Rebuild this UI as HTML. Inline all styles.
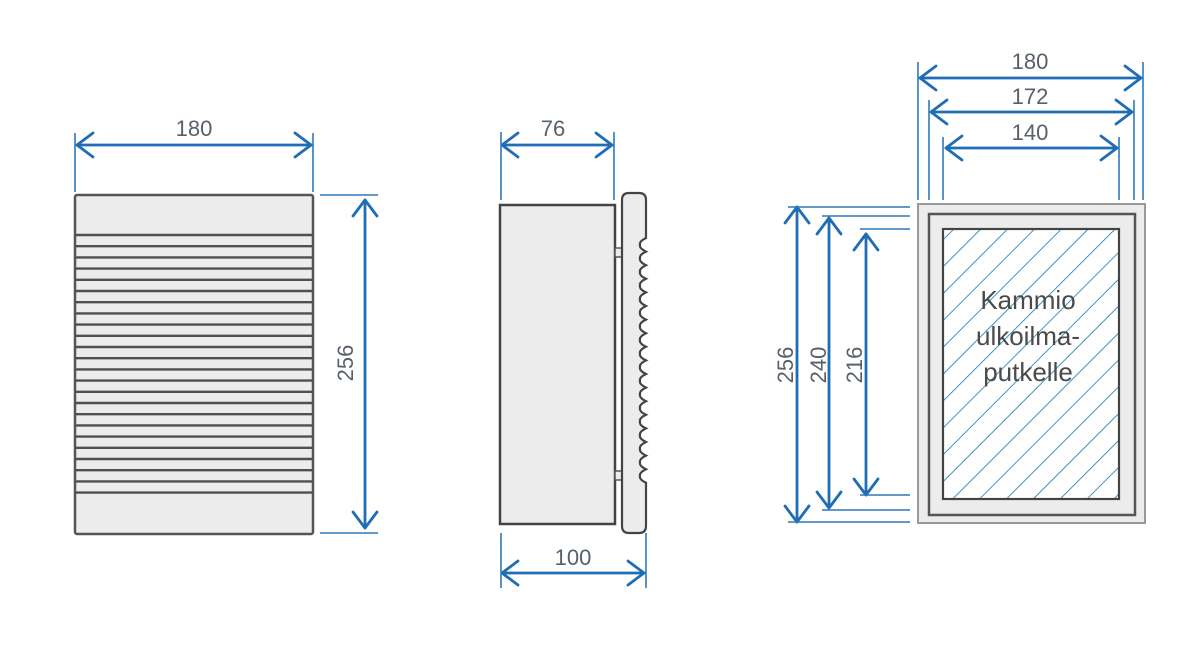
<!DOCTYPE html>
<html><head><meta charset="utf-8"><style>
html,body{margin:0;padding:0;background:#fff;width:1200px;height:654px;overflow:hidden}
svg{display:block}
text{font-family:"Liberation Sans",sans-serif;font-size:22px;fill:#58606a}
</style></head><body>
<svg id="s" width="1200" height="654" viewBox="0 0 1200 654" xmlns="http://www.w3.org/2000/svg">
<defs>
<pattern id="h" patternUnits="userSpaceOnUse" width="19" height="19" patternTransform="rotate(45)">
<line x1="0" y1="0" x2="0" y2="19" stroke="#2b88b8" stroke-width="1.8"/>
</pattern>
</defs>
<rect x="75" y="195" width="238" height="339" rx="2" fill="#ececec" stroke="#555" stroke-width="2.5"/>
<g id="stripes" stroke="#505050" stroke-width="2.4"></g>
<rect x="500" y="205" width="115" height="319" fill="#ececec" stroke="#444" stroke-width="2.5"/>
<rect x="615" y="248" width="8" height="9" fill="#ececec" stroke="#555" stroke-width="1.5"/>
<rect x="615" y="471" width="8" height="9" fill="#ececec" stroke="#555" stroke-width="1.5"/>
<path id="plate" fill="#ececec" stroke="#444" stroke-width="2.2"/>
<rect x="918" y="204" width="227" height="319" fill="#ececec" stroke="#999" stroke-width="2"/>
<rect x="929" y="214" width="206" height="301" fill="#ececec" stroke="#555" stroke-width="2.5"/>
<rect x="943" y="229" width="176" height="270" fill="#fff"/>
<rect x="943" y="229" width="176" height="270" fill="url(#h)" stroke="#444" stroke-width="2.2"/>
<text x="1028" y="309" text-anchor="middle" style="font-size:26px;fill:#4a4a4a">Kammio</text>
<text x="1028" y="345" text-anchor="middle" style="font-size:26px;fill:#4a4a4a">ulkoilma-</text>
<text x="1028" y="381" text-anchor="middle" style="font-size:26px;fill:#4a4a4a">putkelle</text>
<g id="dims" stroke="#1e6db5" stroke-width="2.8" fill="none" stroke-linecap="round" stroke-linejoin="round"></g>
<g id="ext" stroke="#2d78b8" stroke-width="1.6"></g>
<text x="194" y="136" text-anchor="middle">180</text>
<text x="553" y="136" text-anchor="middle">76</text>
<text x="573" y="565" text-anchor="middle">100</text>
<text x="1030" y="69" text-anchor="middle">180</text>
<text x="1030" y="104" text-anchor="middle">172</text>
<text x="1030" y="140" text-anchor="middle">140</text>
<text transform="translate(353,363) rotate(-90)" text-anchor="middle">256</text>
<text transform="translate(793,365) rotate(-90)" text-anchor="middle">256</text>
<text transform="translate(826,365) rotate(-90)" text-anchor="middle">240</text>
<text transform="translate(862,365) rotate(-90)" text-anchor="middle">216</text>
</svg>
<script>
var NS="http://www.w3.org/2000/svg";
function el(p,t,a){var e=document.createElementNS(NS,t);for(var k in a)e.setAttribute(k,a[k]);p.appendChild(e);return e;}
var st=document.getElementById('stripes');
for(var i=0;i<24;i++){var y=235+i*11.2;el(st,'line',{x1:76,x2:312,y1:y,y2:y});}
var d="M622,200 Q622,193 629,193 L639,193 Q646,193 646,200 L646,238";
var y=238;for(var i=0;i<18;i++){d+=" Q639,"+(y+3.4)+" 640,"+(y+6.8)+" Q639,"+(y+10.2)+" 646,"+(y+13.6);y+=13.6;}
d+=" L646,526 Q646,533 639,533 L629,533 Q622,533 622,526 Z";
document.getElementById('plate').setAttribute('d',d);
var dm=document.getElementById('dims'),ex=document.getElementById('ext');
var A=16,B=12;
function h(x1,x2,y){el(dm,'line',{x1:x1,x2:x2,y1:y,y2:y});el(dm,'polyline',{points:(x1+A)+","+(y-B)+" "+x1+","+y+" "+(x1+A)+","+(y+B)});el(dm,'polyline',{points:(x2-A)+","+(y-B)+" "+x2+","+y+" "+(x2-A)+","+(y+B)});}
function v(x,y1,y2){el(dm,'line',{x1:x,x2:x,y1:y1,y2:y2});el(dm,'polyline',{points:(x-B)+","+(y1+A)+" "+x+","+y1+" "+(x+B)+","+(y1+A)});el(dm,'polyline',{points:(x-B)+","+(y2-A)+" "+x+","+y2+" "+(x+B)+","+(y2-A)});}
function l(x1,y1,x2,y2){el(ex,'line',{x1:x1,y1:y1,x2:x2,y2:y2});}
h(77,311,145);l(75,133,75,192);l(313,133,313,192);
v(365,200,528);l(320,195,378,195);l(320,533,378,533);
h(502,612,145);l(501,132,501,200);l(614,132,614,200);
h(502,644,573);l(501,533,501,588);l(646,533,646,588);
h(920,1141,78);h(931,1132,112);h(946,1117,148);
l(918,62,918,200);l(929,100,929,200);l(943,137,943,200);
l(1143,62,1143,200);l(1134,100,1134,200);l(1119,137,1119,200);
v(797,207,522);v(829,218,508);v(866,234,495);
l(788,207,910,207);l(822,216,910,216);l(860,229,910,229);
l(860,495,910,495);l(822,510,910,510);l(788,522,910,522);
</script>
</body></html>
